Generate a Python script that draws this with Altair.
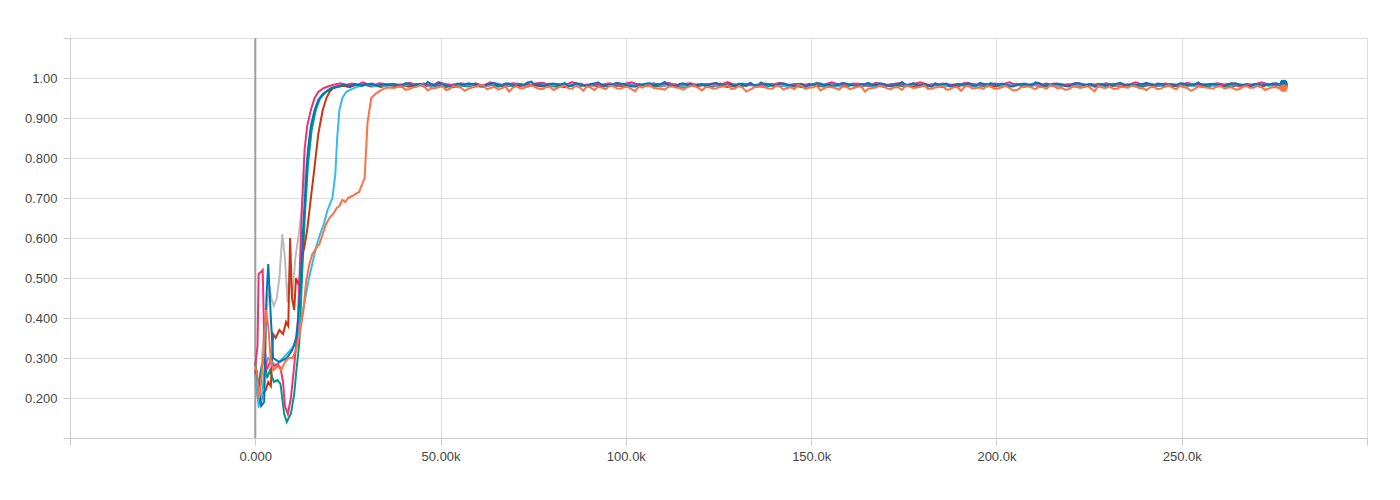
import altair as alt
import pandas as pd

# ---- data (steps in thousands, values 0..1) ----
blue_k = [0.3,1.0,1.6,2.4,3.0,3.5,4.2,4.8,6.5,8.5,10.0,11.0,11.6,12.3,12.9,13.5,14.2,15.0,16.0,17.0,18.2,19.5,21.0,22.5,24.0,25.5,27.0,28.5,30.0,31.5,33.0,34.5,36.0]
blue_v = [0.27,0.22,0.18,0.19,0.45,0.535,0.40,0.30,0.29,0.30,0.32,0.35,0.40,0.50,0.62,0.72,0.82,0.88,0.92,0.945,0.96,0.968,0.975,0.979,0.983,0.980,0.985,0.981,0.984,0.986,0.980,0.984,0.982]

magenta_k = [0.0,0.6,0.9,1.5,2.0,2.4,3.0,4.0,5.0,6.0,6.8,7.5,8.0,8.8,9.6,10.5,11.4,12.0,12.6,13.3,14.0,15.0,16.0,17.0,18.5,20.0,21.5,23.0,24.5,26.0,27.5,29.0,30.5,32.0,33.5,35.0]
magenta_v = [0.28,0.33,0.51,0.515,0.52,0.35,0.27,0.29,0.28,0.285,0.275,0.24,0.18,0.16,0.20,0.28,0.37,0.52,0.68,0.82,0.88,0.92,0.95,0.965,0.975,0.98,0.984,0.987,0.982,0.986,0.983,0.989,0.984,0.982,0.987,0.985]

teal_k = [0.0,0.8,1.5,2.5,3.2,4.0,5.0,6.0,6.8,7.8,8.5,9.0,9.6,10.5,11.0,11.9,12.6,13.4,14.2,15.2,16.3,17.5,19.0,20.5,22.0,23.5,25.0,26.5,28.0,29.5,31.0,32.5,34.0,35.5]
teal_v = [0.29,0.22,0.27,0.30,0.25,0.27,0.24,0.245,0.235,0.16,0.14,0.15,0.16,0.21,0.26,0.34,0.50,0.66,0.78,0.87,0.92,0.95,0.965,0.975,0.979,0.982,0.978,0.983,0.980,0.984,0.979,0.982,0.977,0.983]

grey_k = [0.0,0.8,1.5,2.2,3.0,3.8,4.3,5.0,5.8,6.5,7.3,8.0,8.7,9.3,10.0,10.8,11.6,12.4,13.2,14.0,15.0,16.0,17.0,18.5,20.0,21.5,23.0,24.5,26.0,27.5,29.0,30.5,32.0,33.5,35.0]
grey_v = [0.30,0.20,0.26,0.35,0.42,0.48,0.45,0.43,0.45,0.50,0.61,0.55,0.44,0.52,0.45,0.55,0.60,0.66,0.74,0.80,0.86,0.91,0.94,0.96,0.972,0.978,0.982,0.985,0.980,0.983,0.986,0.981,0.984,0.979,0.983]

red_k = [0.0,0.7,1.3,2.0,2.8,3.5,4.2,4.8,5.5,6.5,7.5,8.3,8.9,9.4,9.9,10.5,11.0,11.8,12.5,13.3,14.0,15.0,15.9,17.0,18.2,19.2,20.0,21.0,22.5,24.0,25.5,27.0,28.5,30.0,31.5,33.0,34.5,36.0]
red_v = [0.27,0.20,0.18,0.21,0.22,0.24,0.23,0.36,0.35,0.37,0.36,0.39,0.38,0.60,0.45,0.42,0.50,0.48,0.55,0.58,0.62,0.70,0.77,0.86,0.92,0.95,0.965,0.975,0.978,0.981,0.977,0.983,0.980,0.984,0.979,0.982,0.980,0.983]

cyan_k = [0.0,0.9,1.6,2.5,3.5,4.5,5.5,6.5,7.5,8.5,9.5,10.5,11.5,12.5,13.5,14.5,15.5,16.5,17.5,18.5,19.5,20.8,21.6,22.1,22.7,23.5,24.5,26.0,27.5,29.0,30.5,32.0,33.5,35.0]
cyan_v = [0.26,0.18,0.19,0.27,0.30,0.29,0.28,0.29,0.30,0.31,0.32,0.33,0.36,0.40,0.45,0.50,0.54,0.58,0.61,0.635,0.67,0.70,0.76,0.85,0.92,0.95,0.965,0.972,0.978,0.981,0.984,0.979,0.983,0.980]

orange_k = [0.0,0.5,1.0,1.6,2.3,2.9,3.5,4.2,5.0,6.0,7.0,8.0,9.0,10.0,11.0,12.0,13.0,13.7,14.6,15.4,16.5,17.3,18.2,19.1,20.0,21.0,22.0,22.7,23.5,24.3,25.0,26.2,27.0,28.0,29.5,30.3,31.3,32.4,33.5,34.5,35.5]
orange_v = [0.28,0.26,0.20,0.24,0.32,0.42,0.38,0.29,0.27,0.28,0.27,0.29,0.30,0.30,0.32,0.36,0.42,0.49,0.535,0.56,0.575,0.585,0.61,0.635,0.65,0.66,0.675,0.68,0.695,0.69,0.70,0.705,0.71,0.715,0.75,0.89,0.95,0.96,0.967,0.972,0.976]

# plateau logging steps (37.5k .. 277.5k) and per-run values in thousandths
plateau_steps = list(range(37500, 277501, 2000))
# extra in-between logging steps for the two runs drawn on top
plateau_steps2 = list(range(38500, 276501, 2000))

blue_p = [984,981,986,983,979,985,988,982,980,984,
          987,983,978,985,982,986,981,984,989,982,
          980,985,983,987,981,984,979,986,983,982,
          988,984,980,983,986,981,985,982,979,987,
          984,983,981,986,982,985,980,984,988,982,
          983,981,986,984,979,985,983,987,982,980,
          984,986,981,983,988,982,985,980,984,983,
          987,981,982,986,984,979,985,983,982,988,
          981,984,986,980,983,985,982,987,981,984,
          983,979,986,982,985,984,980,983,988,982,
          981,985,984,986,980,983,987,982,984,981,
          985,983,979,986,984,982,985,981,983,987,
          986]
blue_p2 = [982,987,980,985,990,981,984,978,986,983,
           985,979,984,988,982,986,980,983,991,984,
           981,986,983,979,987,982,985,989,980,984,
           986,982,978,984,987,983,990,981,985,982,
           979,985,983,988,981,984,986,980,983,989,
           984,980,987,982,985,978,983,986,984,981,
           988,983,980,985,982,987,981,984,990,983,
           982,985,978,984,986,981,983,988,980,985,
           987,982,984,979,985,983,989,981,984,986,
           980,984,987,982,978,985,983,986,981,984,
           983,988,981,985,984,980,986,982,989,983,
           985,981,984,987,982,979,985,983,986,984]
orange_p = [975,979,972,978,981,974,977,970,980,976,
            973,978,982,975,971,979,976,974,980,977,
            972,978,975,981,973,977,979,970,976,980,
            974,977,972,979,981,975,973,978,976,971,
            980,975,977,973,979,982,974,976,971,978,
            977,973,980,975,972,979,976,981,974,977,
            971,978,975,980,973,976,979,972,977,981,
            975,978,973,976,980,972,977,979,974,976,
            981,973,977,975,970,979,976,978,973,980,
            976,972,979,977,974,981,975,973,978,976,
            980,974,977,972,979,976,981,975,973,978,
            975,979,974,977,972,980,976,978,974,977,
            975]
orange_p2 = [978,971,976,982,969,975,980,973,977,968,
             976,981,972,978,974,966,979,975,982,973,
             977,970,979,974,981,968,976,978,972,980,
             973,978,967,976,982,974,971,979,975,977,
             981,969,977,974,979,972,980,966,976,978,
             974,980,971,977,983,973,976,969,978,975,
             979,972,978,966,975,981,974,977,970,979,
             976,982,973,978,971,977,968,980,975,973,
             978,974,981,969,976,979,972,977,982,974,
             971,978,975,980,967,976,979,973,977,981,
             975,970,978,974,982,972,977,968,979,976,
             973,980,976,971,978,975,981,970,977,974]
magenta_p = [985,982,988,983,986,981,990,984,982,987,
             983,986,981,989,984,982,987,985,980,986,
             988,983,985,982,990,984,981,986,983,987,
             982,985,989,983,981,986,984,988,982,985,
             987,981,984,986,983,990,982,985,984,981,
             986,983,988,982,985,984,981,987,983,989,
             984,982,986,985,981,988,983,984,987,982,
             985,989,983,981,986,984,982,988,985,983,
             981,986,984,989,982,985,983,987,981,986,
             984,982,988,983,985,981,987,984,986,982,
             989,983,985,982,986,984,981,988,983,985,
             982,987,984,986,981,985,983,989,984,982,
             985]
red_p = [980,983,978,985,981,979,984,982,977,983,
         981,986,979,982,984,978,983,980,985,981,
         979,984,982,977,983,986,980,982,979,984,
         983,978,981,985,980,983,979,984,982,977,
         984,980,983,979,986,981,978,982,984,980,
         982,985,979,983,981,977,984,980,983,986,
         980,982,984,978,983,981,985,979,982,984,
         978,983,981,986,980,982,979,984,981,983,
         985,979,982,980,984,978,983,981,986,980,
         982,984,979,983,981,985,978,982,980,984,
         979,983,985,980,982,978,984,981,983,979,
         984,980,982,986,979,983,981,978,984,982,
         981]
cyan_p = [983,979,985,981,984,978,986,982,980,984,
          981,985,979,983,986,980,982,984,978,985,
          982,980,984,987,981,983,979,985,982,980,
          985,981,983,979,984,986,980,982,985,978,
          983,985,980,982,978,984,981,986,983,979,
          981,984,982,979,985,980,983,987,981,984,
          979,983,985,981,982,978,984,980,985,982,
          984,980,983,986,979,982,985,981,978,984,
          982,985,979,983,981,987,980,984,982,979,
          985,981,983,980,984,982,978,985,981,983,
          980,984,986,981,979,983,985,982,980,984,
          983,979,982,985,981,984,980,986,982,981,
          983]
teal_p = [981,978,983,980,985,979,982,977,984,981,
          979,983,981,985,978,982,980,984,979,983,
          985,980,978,983,981,979,984,982,977,983,
          980,984,979,982,985,978,981,983,980,979,
          983,981,985,979,982,977,984,980,983,981,
          978,982,984,980,983,979,985,981,978,983,
          982,979,983,985,980,982,978,984,981,979,
          984,981,979,983,977,982,985,980,983,981,
          979,984,982,978,983,980,984,981,979,985,
          981,983,979,984,982,978,983,980,985,981,
          983,978,984,981,979,983,980,982,984,978,
          980,985,981,979,983,982,978,984,981,983,
          980]
grey_p = [982,985,980,983,979,984,981,986,982,980,
          984,981,983,986,980,982,985,979,983,981,
          983,986,981,979,984,982,980,985,983,981,
          979,983,985,981,982,986,980,983,979,984,
          981,984,982,980,985,979,983,986,981,982,
          985,980,983,981,979,984,986,982,980,983,
          983,981,985,982,980,983,979,984,986,981,
          980,984,982,985,981,979,983,982,986,980,
          984,982,980,983,986,981,985,979,982,984,
          981,985,983,979,982,984,980,986,983,981,
          985,980,982,984,981,986,979,983,981,985,
          982,984,980,983,985,981,984,979,983,982,
          984]

# draw order: first is at the back
runs = [
    ("grey", "#bbbbbb", grey_k, grey_v, grey_p, []),
    ("teal", "#009988", teal_k, teal_v, teal_p, []),
    ("red", "#cc3311", red_k, red_v, red_p, []),
    ("cyan", "#33bbee", cyan_k, cyan_v, cyan_p, []),
    ("magenta", "#ee3377", magenta_k, magenta_v, magenta_p, []),
    ("blue", "#0077bb", blue_k, blue_v, blue_p, blue_p2),
    ("orange", "#ff7043", orange_k, orange_v, orange_p, orange_p2),
]

x_ticks = [-50000, 0, 50000, 100000, 150000, 200000, 250000, 300000]
y_ticks = [0.1, 0.2, 0.3, 0.4, 0.5, 0.6, 0.7, 0.8, 0.9, 1.0, 1.1]

FONT = "Liberation Sans"

x_scale = alt.Scale(domain=[-50000, 300000], nice=False, zero=False)
y_scale = alt.Scale(domain=[0.1, 1.1], nice=False, zero=False)

x_axis = alt.Axis(
    values=x_ticks, title=None, grid=True, gridColor="#dddddd",
    labelExpr="datum.value < 0 || datum.value > 260000 ? '' : format(datum.value, '.4s')",
    domainColor="#cccccc", tickColor="#cccccc", tickSize=7, labelPadding=5,
    labelFont=FONT, labelFontSize=13, labelColor="#444444",
)
y_axis = alt.Axis(
    values=y_ticks, title=None, grid=True, gridColor="#dddddd",
    labelExpr="datum.value < 0.15 || datum.value > 1.05 ? '' : format(datum.value, '.3r')",
    domainColor="#cccccc", tickColor="#cccccc", tickSize=7, labelPadding=6,
    labelFont=FONT, labelFontSize=13, labelColor="#444444",
)

layers = []
# axes + zero line
zero_df = pd.DataFrame({"x": [0]})
axes_layer = alt.Chart(zero_df).mark_rule(color="#9e9e9e", strokeWidth=2).encode(
    x=alt.X("x:Q", scale=x_scale, axis=x_axis),
)
layers.append(axes_layer)

for name, color, ks, vs, ps, ps2 in runs:
    assert len(ks) == len(vs), name
    assert len(ps) == len(plateau_steps), (name, len(ps))
    steps = [k * 1000 for k in ks] + plateau_steps
    vals = list(vs) + [p / 1000 for p in ps]
    if ps2:
        assert len(ps2) == len(plateau_steps2), (name, len(ps2))
        steps += plateau_steps2
        vals += [p / 1000 for p in ps2]
    df = pd.DataFrame({"step": steps, "value": vals}).sort_values("step")
    line = alt.Chart(df).mark_line(color=color, strokeWidth=2).encode(
        x=alt.X("step:Q", scale=x_scale, axis=x_axis),
        y=alt.Y("value:Q", scale=y_scale, axis=y_axis),
    )
    layers.append(line)

for name, color, ks, vs, ps, ps2 in runs:
    last = pd.DataFrame({"step": [plateau_steps[-1]], "value": [ps[-1] / 1000]})
    dot = alt.Chart(last).mark_circle(color=color, size=60, opacity=1).encode(
        x=alt.X("step:Q", scale=x_scale, axis=x_axis),
        y=alt.Y("value:Q", scale=y_scale, axis=y_axis),
    )
    layers.append(dot)

chart = alt.layer(*layers).properties(
    width=1297, height=400,
    autosize=alt.AutoSizeParams(type="none"),
    padding={"left": 62, "top": 30, "right": 20, "bottom": 40},
).configure_view(stroke=None).configure(background="white")

chart.save("out.html", embed_options={"renderer": "svg", "actions": False})
